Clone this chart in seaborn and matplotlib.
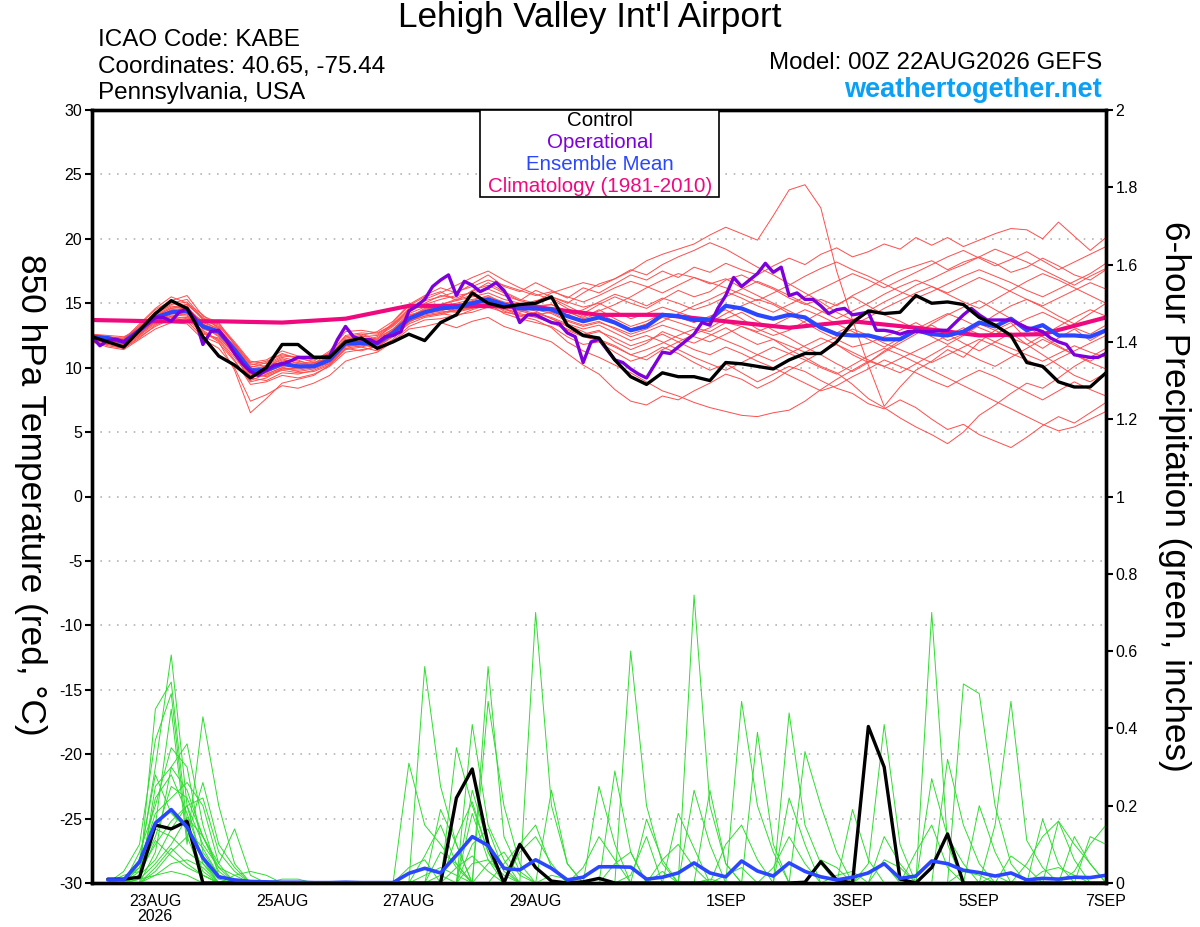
import matplotlib
matplotlib.use("Agg")
import matplotlib.pyplot as plt
from matplotlib.patches import Rectangle
import numpy as np
import pandas as pd
import seaborn as sns

START = pd.Timestamp("2026-08-22 00:00")

# ---- 850 hPa temperature (deg C), 6-hourly from 00Z 22AUG ----
control_temp = [
    12.4, 12.0, 11.6, 12.9, 14.2, 15.2, 14.6, 12.4, 10.9, 10.2, 9.2, 10.0, 11.8,
    11.8, 10.8, 10.8, 12.0, 12.3, 11.5, 12.0, 12.6, 12.1, 13.5, 14.1, 15.8, 15.0,
    14.7, 14.9, 15.0, 15.5, 13.3, 12.5, 12.3, 10.6, 9.3, 8.7, 9.6, 9.3, 9.3,
    9.0, 10.4, 10.3, 10.1, 9.9, 10.6, 11.1, 11.1, 12.0, 13.5, 14.4, 14.2, 14.3,
    15.6, 15.0, 15.1, 14.9, 13.9, 13.3, 12.5, 10.4, 10.1, 8.9, 8.5, 8.5, 9.6,
]

mean_temp = [
    12.4, 12.3, 12.0, 12.9, 13.9, 14.3, 14.4, 13.2, 12.8, 11.4, 9.8, 9.8, 10.3,
    10.1, 10.1, 10.6, 11.9, 11.9, 11.9, 12.7, 13.8, 14.3, 14.6, 14.7, 15.0, 15.3,
    14.9, 14.6, 14.6, 14.5, 14.0, 13.6, 13.9, 13.5, 12.9, 13.2, 14.1, 14.0, 13.7,
    13.7, 14.8, 14.6, 14.1, 13.8, 14.1, 13.9, 13.1, 12.6, 12.5, 12.5, 12.2, 12.2,
    12.9, 12.6, 12.5, 12.8, 13.5, 13.2, 13.8, 12.9, 13.3, 12.5, 12.5, 12.4, 12.9,
]

# operational run is 3-hourly
operational_temp = [
    12.4, 11.7, 12.1, 12.2, 12.0, 12.4, 12.9, 13.4, 13.9, 13.9, 13.6, 14.3, 14.6,
    13.8, 11.8, 12.8, 12.9, 12.1, 11.1, 10.3, 9.7, 9.4, 9.8, 10.2, 10.3, 10.5,
    10.8, 10.8, 10.8, 10.8, 10.9, 12.2, 13.2, 12.4, 12.2, 12.2, 11.9, 12.4, 12.5,
    12.8, 14.4, 14.8, 15.3, 16.3, 16.8, 17.2, 15.6, 16.7, 16.4, 15.9, 16.2, 16.6,
    16.0, 15.0, 13.5, 14.1, 14.1, 13.8, 13.5, 13.4, 12.7, 12.4, 10.4, 12.0, 12.2,
    11.4, 10.6, 10.4, 9.9, 9.5, 9.2, 10.2, 11.2, 11.1, 11.6, 12.1, 12.6, 13.5,
    13.3, 14.6, 15.6, 17.0, 16.3, 16.8, 17.3, 18.1, 17.4, 17.8, 15.6, 15.8, 15.3,
    15.3, 14.8, 14.2, 14.5, 14.6, 14.1, 14.2, 14.3, 12.9, 12.9, 12.8, 12.6, 12.8,
    12.8, 12.8, 12.8, 12.9, 12.9, 13.5, 14.1, 14.6, 14.1, 13.7, 13.7, 13.7, 13.7,
    13.4, 13.1, 13.0, 12.8, 12.3, 12.0, 11.8, 11.0, 10.9, 10.8, 10.8, 11.1,
]

# climatology, daily
clim_temp = [13.7, 13.6, 13.6, 13.5, 13.8, 14.8, 14.8, 14.7, 14.1,
             14.1, 13.6, 13.1, 13.6, 13.1, 12.5, 12.6, 13.9]

member_temp = [
    [12.0, 11.8, 12.2, 13.4, 14.6, 15.5, 15.0, 14.1, 13.0, 11.0, 9.6, 10.2, 10.8,
     10.5, 10.3, 11.2, 12.4, 12.6, 12.2, 13.5, 14.8, 15.5, 15.9, 15.2, 16.0, 16.4,
     15.8, 15.2, 16.0, 15.5, 15.0, 15.8, 16.5, 16.9, 17.5, 18.3, 18.8, 19.2, 19.6,
     20.3, 20.9, 20.4, 19.9, 21.8, 23.8, 24.2, 22.4, 17.5, 13.7, 10.2, 7.0, 8.5,
     9.8, 10.5, 11.4, 10.8, 12.0, 12.9, 13.5, 12.2, 11.5, 12.3, 13.0, 12.1, 12.8],
    [12.6, 12.4, 12.3, 13.1, 14.3, 15.0, 15.3, 13.8, 13.4, 12.0, 10.5, 10.3, 10.9,
     10.8, 10.6, 11.0, 12.3, 12.5, 12.8, 13.6, 14.9, 15.6, 16.2, 15.8, 16.5, 17.2,
     16.3, 15.9, 16.6, 16.0, 15.4, 16.2, 15.8, 16.5, 17.2, 16.8, 17.5, 17.0, 17.8,
     17.4, 18.1, 17.6, 17.2, 17.9, 18.5, 18.0, 18.8, 19.3, 18.6, 19.0, 19.6, 19.2,
     20.1, 19.5, 20.1, 19.4, 19.9, 20.4, 20.8, 20.7, 20.0, 21.3, 20.2, 19.1, 20.1],
    [12.1, 11.7, 11.5, 12.4, 13.2, 13.8, 13.9, 12.9, 12.1, 10.6, 8.7, 8.9, 9.4,
     9.2, 9.5, 10.1, 11.2, 11.4, 11.6, 12.4, 13.4, 13.9, 14.1, 14.5, 14.6, 15.0,
     14.2, 13.8, 13.5, 13.2, 12.4, 11.8, 12.0, 11.2, 10.5, 10.9, 11.6, 11.1, 10.4,
     9.8, 10.3, 9.6, 8.9, 9.5, 10.1, 9.7, 9.0, 8.4, 8.0, 7.2, 6.8, 7.5,
     6.9, 6.0, 5.2, 5.6, 4.8, 4.3, 3.8, 4.6, 5.5, 6.2, 5.7, 6.5, 7.3],
    [12.4, 12.0, 11.9, 12.6, 13.5, 14.2, 14.8, 13.0, 12.6, 11.0, 9.0, 9.5, 10.0,
     9.7, 9.9, 10.4, 11.6, 11.8, 11.5, 12.2, 13.6, 14.0, 14.2, 14.0, 14.5, 14.9,
     14.6, 14.0, 14.3, 13.8, 13.2, 12.6, 12.9, 12.0, 11.4, 11.9, 12.8, 12.3, 11.9,
     12.5, 13.1, 12.4, 11.8, 12.2, 11.4, 10.8, 10.1, 9.6, 8.7, 7.6, 6.9, 6.1,
     5.4, 4.8, 4.1, 5.0, 6.3, 7.1, 8.0, 8.8, 8.4, 9.2, 10.1, 10.8, 11.5],
    [12.5, 12.3, 12.1, 13.3, 14.5, 15.2, 15.6, 14.0, 13.5, 11.8, 10.3, 10.1, 10.6,
     10.4, 10.2, 10.9, 12.2, 12.0, 12.4, 13.2, 14.3, 15.0, 15.6, 15.4, 15.9, 16.6,
     15.9, 15.3, 15.0, 15.4, 14.8, 14.2, 14.9, 15.5, 15.0, 14.6, 15.3, 16.0, 15.5,
     15.9, 16.8, 17.2, 16.6, 16.1, 15.4, 14.9, 15.3, 14.8, 15.6, 16.2, 16.9, 17.5,
     17.9, 18.3, 17.6, 18.2, 18.6, 18.1, 17.4, 17.8, 18.5, 17.9, 17.2, 16.8, 17.6],
    [12.2, 12.1, 11.8, 12.7, 13.6, 14.0, 13.8, 12.6, 12.3, 11.1, 9.4, 9.6, 10.2,
     10.0, 10.3, 10.8, 12.1, 12.2, 12.0, 12.9, 14.1, 14.4, 14.9, 15.2, 15.5, 15.8,
     15.3, 15.0, 14.8, 14.9, 14.3, 13.9, 14.5, 13.8, 13.2, 13.6, 14.2, 13.9, 13.5,
     14.0, 14.5, 13.8, 13.0, 12.5, 12.9, 13.6, 14.3, 14.9, 15.5, 14.8, 14.1, 13.6,
     13.0, 12.4, 11.8, 12.5, 13.3, 14.1, 14.8, 15.3, 14.7, 14.0, 13.4, 14.2, 15.0],
    [12.0, 11.6, 11.4, 12.2, 13.0, 13.5, 13.4, 12.2, 11.5, 10.0, 7.4, 7.9, 8.6,
     8.4, 8.8, 9.4, 10.5, 10.9, 11.2, 12.0, 13.0, 13.2, 13.5, 13.1, 13.6, 13.9,
     13.2, 12.8, 12.4, 12.0, 11.1, 10.2, 9.5, 8.3, 7.4, 7.1, 7.8, 7.5, 8.2,
     8.8, 9.5, 9.1, 8.4, 9.0, 9.8, 10.5, 11.2, 11.8, 11.0, 10.4, 11.3, 12.1,
     12.8, 13.3, 12.6, 11.9, 11.3, 12.0, 12.7, 11.8, 11.0, 10.2, 9.4, 8.9, 9.6],
    [12.6, 12.5, 12.4, 13.0, 14.1, 14.7, 14.9, 13.9, 13.1, 11.6, 10.0, 10.4, 11.1,
     10.7, 10.5, 11.3, 12.8, 12.9, 12.7, 13.3, 14.6, 15.3, 15.8, 16.4, 17.0, 17.5,
     16.8, 16.2, 15.7, 15.3, 14.6, 14.0, 14.4, 14.9, 15.5, 16.2, 16.8, 17.3, 17.0,
     16.5, 16.9, 16.2, 15.6, 15.0, 14.4, 13.8, 13.2, 12.7, 13.3, 13.9, 14.6, 15.2,
     15.8, 16.3, 15.7, 15.1, 14.6, 15.3, 16.0, 16.7, 17.3, 16.8, 16.2, 15.6, 15.0],
    [12.3, 12.1, 11.7, 12.5, 13.7, 14.3, 14.1, 12.8, 12.0, 9.8, 6.5, 7.6, 8.8,
     9.1, 9.4, 10.2, 11.5, 11.3, 11.7, 12.5, 13.5, 14.2, 14.4, 14.8, 15.2, 15.6,
     15.0, 14.7, 14.4, 13.8, 13.3, 12.8, 12.2, 11.7, 11.0, 10.6, 11.4, 12.0, 12.6,
     13.1, 13.8, 14.3, 13.6, 12.9, 12.3, 11.6, 11.0, 10.3, 9.7, 10.4, 11.2, 11.9,
     12.6, 13.4, 14.1, 14.7, 15.2, 14.5, 13.8, 13.2, 12.4, 11.7, 11.0, 10.5, 11.2],
    [12.4, 12.2, 12.0, 13.0, 14.0, 14.6, 14.7, 13.5, 13.0, 11.7, 10.1, 10.0, 10.4,
     10.2, 10.0, 10.5, 11.8, 11.6, 11.9, 12.8, 13.9, 14.6, 14.8, 15.0, 15.3, 15.5,
     15.1, 14.9, 15.2, 15.5, 15.1, 14.7, 15.0, 14.4, 13.8, 14.2, 14.7, 14.3, 13.9,
     13.5, 14.2, 14.8, 15.3, 14.9, 14.2, 13.5, 12.8, 12.2, 11.6, 11.9, 12.4, 12.9,
     13.5, 12.8, 12.1, 12.6, 13.4, 12.9, 12.3, 11.8, 12.5, 13.2, 13.9, 14.5, 14.0],
    [12.1, 12.0, 12.1, 12.8, 13.8, 14.5, 14.6, 13.4, 12.9, 11.5, 9.9, 9.7, 10.1,
     10.3, 10.4, 10.7, 12.0, 12.3, 12.1, 12.9, 14.0, 14.5, 14.9, 15.3, 15.6, 15.2,
     14.8, 14.5, 15.1, 15.8, 16.2, 16.6, 16.3, 16.9, 17.6, 17.2, 18.0, 18.6, 19.1,
     19.7, 19.2, 18.5, 17.8, 17.2, 16.5, 15.8, 15.1, 14.3, 13.7, 14.4, 15.1, 15.7,
     16.4, 16.9, 17.5, 18.0, 18.6, 19.2, 18.7, 18.2, 17.6, 17.0, 16.4, 17.1, 17.7],
    [12.2, 11.9, 11.6, 12.5, 13.4, 14.0, 14.2, 13.1, 12.5, 11.2, 9.5, 9.3, 9.8,
     9.6, 9.7, 10.2, 11.4, 11.6, 11.3, 12.1, 13.2, 13.7, 13.8, 14.1, 14.3, 14.7,
     14.3, 14.1, 14.0, 13.6, 13.0, 12.5, 12.8, 12.3, 11.7, 12.1, 12.6, 12.0, 11.4,
     11.0, 11.6, 11.1, 10.5, 10.0, 9.4, 8.8, 8.2, 8.6, 9.3, 9.9, 10.6, 10.1,
     9.6, 9.0, 8.5, 9.2, 9.8, 9.3, 8.7, 8.1, 7.5, 8.2, 8.9, 8.3, 7.8],
    [12.3, 12.2, 12.3, 13.2, 14.2, 14.8, 14.5, 13.2, 12.7, 11.3, 9.7, 9.9, 10.5,
     10.6, 10.1, 10.3, 11.7, 12.1, 12.3, 13.0, 14.2, 14.7, 14.4, 14.3, 14.6, 15.0,
     14.5, 14.3, 14.7, 14.9, 14.4, 13.8, 14.2, 13.6, 13.0, 13.4, 13.9, 13.5, 13.1,
     12.8, 13.5, 13.2, 12.8, 13.3, 13.9, 14.5, 14.0, 13.4, 12.8, 12.2, 11.6, 12.3,
     13.0, 13.6, 14.2, 13.7, 13.1, 12.6, 13.2, 13.8, 14.3, 13.7, 13.1, 12.6, 13.3],
    [12.0, 11.8, 11.5, 12.3, 13.3, 13.9, 13.6, 12.4, 11.9, 10.5, 8.9, 9.2, 9.9,
     9.8, 10.0, 10.6, 11.8, 11.9, 11.8, 12.6, 13.7, 14.1, 14.3, 14.4, 14.7, 15.1,
     14.4, 14.0, 13.7, 13.1, 12.0, 11.3, 10.8, 10.2, 9.6, 8.9, 8.2, 7.8, 7.3,
     6.9, 6.6, 6.3, 6.2, 6.5, 6.7, 7.4, 8.3, 9.1, 9.8, 10.5, 10.1, 9.6,
     10.3, 11.0, 11.7, 11.2, 10.6, 10.1, 10.8, 11.5, 12.2, 11.6, 11.0, 10.4, 9.9],
    [12.5, 12.4, 12.2, 13.1, 14.2, 14.9, 15.1, 13.7, 13.2, 11.9, 10.4, 10.6, 11.3,
     10.9, 10.7, 11.1, 12.5, 12.7, 12.6, 13.4, 14.5, 15.2, 15.5, 15.9, 16.3, 16.8,
     16.4, 16.0, 15.6, 15.9, 15.5, 15.1, 15.6, 16.2, 16.7, 16.3, 15.8, 16.4, 17.0,
     16.6, 16.2, 15.7, 15.2, 15.8, 16.4, 17.1, 17.7, 18.2, 17.6, 17.1, 16.5, 15.9,
     15.4, 15.9, 16.5, 17.1, 17.6, 17.1, 16.6, 16.0, 15.5, 16.1, 16.7, 17.3, 18.1],
    [12.2, 12.1, 11.9, 12.8, 13.7, 14.3, 14.3, 13.1, 12.6, 11.3, 9.6, 9.5, 10.0,
     9.9, 10.1, 10.5, 11.7, 11.8, 11.7, 12.6, 13.7, 14.2, 14.6, 14.4, 14.8, 15.2,
     14.7, 14.4, 14.1, 14.3, 13.7, 13.3, 13.6, 13.0, 12.4, 12.8, 13.3, 12.9, 12.4,
     12.0, 12.6, 13.2, 12.7, 12.2, 11.7, 11.2, 11.8, 12.4, 13.0, 12.5, 11.9, 11.4,
     10.9, 10.4, 11.0, 11.6, 12.2, 11.7, 11.1, 10.6, 10.0, 10.7, 11.3, 11.9, 12.5],
    [12.4, 12.3, 12.1, 12.9, 13.9, 14.4, 14.5, 13.6, 13.0, 11.5, 9.9, 10.1, 10.7,
     10.3, 10.2, 10.7, 12.0, 12.1, 12.2, 13.0, 14.0, 14.4, 14.7, 14.8, 15.1, 15.4,
     15.0, 14.8, 14.5, 14.2, 13.6, 13.2, 13.5, 13.1, 12.6, 13.0, 13.6, 14.2, 14.8,
     15.3, 15.9, 15.4, 14.8, 14.3, 14.9, 15.5, 16.1, 16.7, 17.3, 16.8, 16.2, 16.8,
     17.4, 18.0, 18.6, 19.1, 18.5, 17.9, 18.4, 19.0, 18.3, 17.6, 18.2, 18.8, 19.4],
    [12.1, 11.9, 11.8, 12.6, 13.6, 14.1, 14.0, 12.7, 12.2, 10.8, 9.2, 9.0, 9.6,
     9.5, 9.8, 10.3, 11.5, 11.7, 11.9, 12.7, 13.8, 14.3, 14.7, 14.9, 15.1, 15.4,
     14.9, 14.5, 14.2, 13.9, 13.4, 13.0, 13.3, 12.7, 12.1, 12.5, 12.0, 11.4, 10.8,
     10.3, 9.8, 10.4, 11.0, 11.6, 11.1, 10.6, 10.0, 9.5, 10.2, 10.9, 11.5, 11.0,
     10.4, 9.8, 9.2, 8.6, 8.0, 7.4, 6.8, 6.2, 5.6, 5.1, 5.4, 6.0, 6.6],
    [12.3, 12.2, 12.2, 13.0, 14.0, 14.6, 14.9, 13.8, 13.3, 11.8, 10.2, 10.5, 11.0,
     10.8, 10.4, 10.8, 12.2, 12.4, 12.5, 13.3, 14.4, 14.9, 15.3, 15.6, 15.8, 16.1,
     15.6, 15.2, 14.9, 14.6, 14.1, 14.5, 15.1, 15.7, 15.3, 14.8, 15.4, 15.0, 14.5,
     14.9, 15.5, 16.1, 16.7, 16.2, 15.6, 15.0, 14.4, 13.8, 14.4, 15.0, 15.7, 16.3,
     16.8, 16.3, 15.8, 16.4, 17.0, 16.5, 15.9, 15.3, 14.8, 15.4, 16.0, 16.6, 16.1],
    [12.2, 12.0, 11.9, 12.7, 13.8, 14.2, 14.3, 13.2, 12.4, 11.0, 9.3, 9.4, 9.9,
     10.0, 10.2, 10.6, 11.9, 11.8, 11.6, 12.5, 13.6, 14.0, 14.2, 14.6, 14.9, 15.1,
     14.6, 14.2, 13.9, 13.5, 12.9, 12.4, 12.1, 11.6, 11.0, 11.4, 11.9, 12.5, 13.0,
     12.6, 12.1, 11.6, 11.0, 10.5, 11.1, 11.7, 12.3, 11.8, 11.2, 10.6, 10.1, 10.7,
     11.3, 11.9, 12.5, 13.1, 12.6, 12.0, 11.5, 11.0, 10.5, 11.1, 11.7, 11.2, 10.8],
]

# ---- 6-hour precipitation (inches), valid 06Z 22AUG onward ----
control_precip = [
    .01, .01, .015, .15, .14, .16, 0, 0, 0, 0, 0, 0, 0, 0, 0, 0,
    0, 0, 0, 0, 0, 0, .22, .295, .10, 0, .10, .04, .005, 0, .003, .012,
    0, 0, 0, 0, 0, 0, 0, 0, 0, 0, 0, 0, .002, .055, .008, 0,
    .405, .30, .01, 0, .04, .127, 0, 0, 0, 0, 0, 0, 0, 0, 0, 0,
]

mean_precip = [
    .008, .008, .055, .155, .19, .145, .065, .016, .008, .004, .003, .002, .002, .001, .001, .002,
    .001, .001, .001, .025, .038, .026, .072, .12, .097, .038, .034, .06, .038, .008, .015, .042,
    .042, .041, .01, .015, .026, .052, .026, .016, .057, .031, .018, .052, .03, .016, .008, .015,
    .026, .05, .012, .018, .057, .05, .033, .027, .018, .026, .008, .012, .01, .015, .014, .02,
]

member_precip = [
    [0, 0, .05, .30, .59, .20, .05, .01, 0, 0, 0, 0, 0, 0, 0, 0,
     0, 0, 0, 0, .56, .25, .10, 0, 0, 0, 0, 0, 0, 0, 0, 0,
     0, .02, .12, 0, 0, 0, 0, 0, 0, 0, 0, 0, 0, 0, 0, 0,
     .05, .41, .10, 0, 0, 0, 0, 0, 0, 0, 0, 0, 0, .03, .10, .15],
    [0, 0, .02, .45, .52, .15, .03, 0, 0, 0, 0, 0, 0, 0, 0, 0,
     0, 0, 0, .31, .15, .10, .04, 0, 0, 0, 0, .70, .20, .05, 0, 0,
     0, 0, 0, 0, 0, 0, 0, 0, 0, 0, 0, 0, 0, 0, 0, 0,
     0, 0, 0, 0, .70, .10, 0, 0, 0, 0, 0, 0, 0, 0, 0, 0],
    [0, .03, .10, .37, .49, .12, .02, 0, 0, 0, 0, 0, 0, 0, 0, 0,
     0, 0, 0, 0, 0, 0, 0, .41, .15, .06, 0, 0, 0, 0, 0, 0,
     0, 0, 0, 0, 0, .745, .20, .05, 0, 0, 0, 0, 0, 0, 0, 0,
     0, 0, 0, 0, 0, 0, 0, 0, .15, .47, .11, .04, 0, 0, 0, 0],
    [0, 0, .08, .20, .35, .30, .08, .02, 0, 0, 0, 0, 0, 0, 0, 0,
     0, 0, 0, 0, 0, 0, 0, 0, .56, .12, .03, 0, 0, 0, 0, 0,
     0, .60, .20, .05, 0, 0, 0, 0, 0, 0, 0, 0, .34, .20, .08, 0,
     0, 0, 0, 0, 0, 0, .515, .49, .20, .05, 0, 0, 0, 0, 0, 0],
    [0, 0, .04, .15, .45, .10, .43, .20, .05, 0, 0, 0, 0, 0, 0, 0,
     0, 0, 0, 0, 0, 0, .35, .20, .08, 0, 0, 0, 0, 0, 0, 0,
     0, 0, 0, 0, 0, 0, 0, 0, .47, .20, .08, 0, 0, 0, 0, 0,
     0, 0, 0, 0, 0, 0, 0, 0, 0, 0, 0, 0, .16, .10, .05, 0],
    [0, 0, 0, .25, .30, .36, .15, .02, 0, 0, 0, 0, 0, 0, 0, 0,
     0, 0, 0, 0, 0, 0, 0, 0, .47, .20, .05, 0, 0, 0, 0, .25,
     .10, 0, 0, 0, 0, 0, 0, 0, 0, 0, 0, .44, .15, .05, 0, 0,
     0, 0, 0, 0, 0, 0, 0, 0, 0, 0, 0, .165, .05, 0, 0, 0],
    [0, 0, .05, .18, .22, .26, .20, .05, .14, .02, 0, 0, 0, 0, 0, 0,
     0, 0, 0, 0, 0, .19, .10, 0, 0, 0, 0, 0, 0, 0, 0, 0,
     0, 0, 0, 0, .18, .09, 0, 0, 0, .39, .10, 0, 0, 0, 0, 0,
     0, .12, .05, 0, 0, 0, 0, 0, 0, 0, 0, 0, 0, 0, 0, 0],
    [0, 0, .03, .12, .25, .22, .12, .03, 0, 0, 0, 0, 0, 0, 0, 0,
     0, 0, 0, 0, 0, 0, 0, .24, .10, .04, 0, 0, .24, .05, 0, 0,
     .29, .08, 0, 0, 0, 0, 0, 0, 0, 0, 0, 0, 0, 0, 0, 0,
     0, 0, 0, 0, 0, .32, .15, .05, 0, 0, 0, 0, 0, 0, 0, 0],
    [0, 0, .02, .22, .28, .18, .06, 0, 0, 0, 0, 0, 0, 0, 0, 0,
     0, 0, 0, 0, .07, .15, .05, 0, 0, 0, 0, 0, 0, 0, 0, 0,
     0, 0, .165, .06, 0, 0, .24, .05, 0, 0, 0, 0, 0, 0, 0, .19,
     .06, 0, 0, 0, 0, 0, 0, 0, 0, 0, 0, 0, 0, 0, .12, .10],
    [0, 0, .06, .28, .18, .14, .09, .02, 0, 0, 0, 0, 0, 0, 0, 0,
     0, 0, 0, 0, 0, 0, 0, 0, 0, .05, .10, .15, .04, 0, 0, 0,
     0, 0, 0, 0, 0, .24, .10, 0, 0, 0, 0, 0, 0, 0, 0, 0,
     0, 0, 0, 0, .27, .12, .05, 0, 0, 0, 0, 0, 0, 0, 0, 0],
    [0, .02, .03, .10, .16, .20, .10, .04, 0, 0, 0, 0, 0, 0, 0, 0,
     0, 0, 0, 0, 0, 0, .12, .21, .08, 0, 0, 0, 0, 0, 0, 0,
     0, 0, 0, 0, 0, 0, 0, .10, .15, .06, 0, 0, 0, 0, 0, 0,
     0, 0, 0, 0, 0, 0, 0, .20, .08, 0, 0, 0, 0, 0, 0, 0],
    [0, .01, .04, .14, .12, .08, .05, 0, 0, 0, 0, 0, 0, 0, 0, 0,
     0, 0, 0, 0, 0, 0, 0, .10, .14, .03, 0, 0, 0, 0, 0, 0,
     0, 0, 0, 0, 0, 0, 0, 0, 0, 0, 0, .22, .10, 0, 0, 0,
     0, 0, 0, 0, 0, 0, 0, 0, 0, 0, .05, .12, .16, .06, 0, 0],
    [0, 0, 0, .08, .30, .24, .12, .04, .02, 0, 0, 0, 0, 0, 0, 0,
     0, 0, 0, 0, 0, .08, .05, 0, 0, 0, 0, 0, 0, 0, .04, .12,
     .06, 0, 0, 0, 0, 0, 0, 0, 0, 0, 0, 0, 0, .06, .04, 0,
     0, 0, 0, 0, 0, 0, 0, 0, 0, .07, .04, 0, 0, 0, 0, 0],
    [0, 0, .02, .06, .14, .20, .22, .08, .03, 0, 0, 0, 0, 0, 0, 0,
     0, 0, 0, 0, 0, 0, 0, .18, .06, 0, 0, 0, 0, 0, 0, 0,
     0, 0, 0, .06, .10, .04, 0, 0, 0, 0, 0, 0, 0, 0, 0, 0,
     0, 0, 0, .08, .15, .04, 0, 0, 0, 0, 0, 0, 0, 0, 0, 0],
    [0, 0, .01, .05, .10, .17, .12, .05, 0, 0, 0, 0, 0, 0, 0, 0,
     0, 0, 0, .04, .06, 0, 0, 0, 0, 0, .08, .12, .05, 0, 0, 0,
     0, 0, 0, 0, 0, 0, 0, 0, 0, 0, .04, .12, .05, 0, 0, 0,
     0, 0, 0, 0, 0, 0, 0, 0, 0, 0, 0, 0, 0, .12, .05, 0],
    [0, 0, 0, .03, .08, .12, .26, .10, .04, 0, 0, 0, 0, 0, 0, 0,
     0, 0, 0, 0, 0, 0, 0, 0, .05, .08, .02, 0, 0, 0, 0, 0,
     .05, .08, 0, 0, 0, 0, 0, 0, 0, 0, 0, 0, 0, 0, 0, 0,
     0, .06, .04, 0, 0, 0, 0, 0, 0, 0, 0, 0, 0, 0, 0, 0],
    [0, 0, .01, .02, .05, .06, .04, 0, 0, 0, 0, 0, 0, 0, 0, 0,
     0, 0, 0, 0, 0, 0, .04, .07, .03, 0, 0, 0, .02, .01, 0, 0,
     0, 0, 0, 0, 0, 0, 0, 0, 0, 0, 0, 0, 0, 0, .02, .03,
     0, 0, 0, 0, 0, 0, 0, 0, .02, 0, 0, 0, 0, 0, 0, 0],
    [0, 0, 0, .04, .09, .05, .02, 0, .02, .03, .02, 0, 0, 0, 0, 0,
     0, 0, 0, 0, 0, .02, 0, 0, 0, 0, 0, 0, 0, 0, 0, 0,
     0, 0, 0, 0, 0, 0, 0, .02, .04, 0, 0, 0, 0, 0, 0, 0,
     0, 0, 0, 0, 0, 0, .03, .02, 0, 0, 0, 0, 0, 0, 0, 0],
    [0, 0, .02, .11, .07, .04, .02, 0, 0, 0, 0, 0, 0, 0, 0, 0,
     0, 0, 0, 0, 0, 0, 0, .05, .06, .02, 0, 0, 0, 0, 0, 0,
     0, 0, 0, .03, 0, 0, 0, 0, 0, 0, 0, 0, 0, 0, 0, 0,
     .03, .05, 0, 0, 0, 0, 0, 0, 0, 0, 0, 0, 0, 0, 0, 0],
    [0, 0, 0, .02, .03, .02, 0, 0, 0, 0, 0, .01, .01, 0, 0, 0,
     0, 0, 0, 0, .02, .04, .02, 0, 0, 0, 0, 0, 0, 0, 0, 0,
     0, 0, 0, 0, 0, 0, .01, 0, 0, 0, 0, 0, 0, 0, 0, 0,
     0, 0, 0, 0, 0, 0, 0, 0, 0, 0, 0, .03, .04, .02, 0, 0],
]

tick_dates = ["2026-08-23", "2026-08-25", "2026-08-27", "2026-08-29",
              "2026-09-01", "2026-09-03", "2026-09-05", "2026-09-07"]
tick_labels = ["23AUG\n2026", "25AUG", "27AUG", "29AUG", "1SEP", "3SEP", "5SEP", "7SEP"]

RED = "#ff4d4d"
GREEN = "#30dc30"
PURPLE = "#7d00dc"
BLUE = "#2a46ff"
PINK = "#f0087f"

# ---- frames ----
t6 = pd.date_range(START, periods=len(control_temp), freq="6h")
t3 = pd.date_range(START, periods=len(operational_temp), freq="3h")
tday = pd.date_range(START, periods=len(clim_temp), freq="D")
tp = t6[1:]

n_mem = len(member_temp)
temp_members = pd.DataFrame({
    "time": np.tile(t6, n_mem),
    "value": np.concatenate(member_temp),
    "member": np.repeat(np.arange(n_mem), len(t6)),
})
precip_members = pd.DataFrame({
    "time": np.tile(tp, len(member_precip)),
    "value": np.concatenate(member_precip),
    "member": np.repeat(np.arange(len(member_precip)), len(tp)),
})

sns.set_style("white")
plt.rcParams["font.family"] = ["Liberation Sans", "DejaVu Sans"]
plt.rcParams["axes.unicode_minus"] = False
for key in ("text.color", "axes.labelcolor", "xtick.color", "ytick.color"):
    plt.rcParams[key] = "black"

fig = plt.figure(figsize=(12, 9.27), dpi=100)
ax = fig.add_axes([92 / 1200, 44 / 927, 1014 / 1200, 773 / 927])

sns.lineplot(data=temp_members, x="time", y="value", units="member", estimator=None,
             color=RED, linewidth=0.7, ax=ax, legend=False)
sns.lineplot(x=tday, y=clim_temp, color=PINK, linewidth=3, ax=ax)
sns.lineplot(x=t6, y=mean_temp, color=BLUE, linewidth=3, ax=ax)
sns.lineplot(x=t3, y=operational_temp, color=PURPLE, linewidth=2.4, ax=ax)
sns.lineplot(x=t6, y=control_temp, color="black", linewidth=2.4, ax=ax)

ax2 = ax.twinx()
sns.lineplot(data=precip_members, x="time", y="value", units="member", estimator=None,
             color=GREEN, linewidth=0.7, ax=ax2, legend=False)
sns.lineplot(x=tp, y=control_precip, color="black", linewidth=2.4, ax=ax2)
sns.lineplot(x=tp, y=mean_precip, color=BLUE, linewidth=2.6, ax=ax2)

# ---- axes ----
ax.set_xlim(START, START + pd.Timedelta(days=16))
ax.set_ylim(-30, 30)
ax2.set_ylim(0, 2)
ax.set_yticks(range(-30, 31, 5))
ax2.set_yticks(np.arange(0, 2.01, 0.2))
ax2.set_yticklabels([f"{v:g}" for v in np.arange(0, 2.01, 0.2).round(1)])
ax.set_xticks([pd.Timestamp(d).to_pydatetime() for d in tick_dates])
ax.set_xticklabels(tick_labels)
for a in (ax, ax2):
    a.set_xlabel("")
    a.set_ylabel("")
    for s in a.spines.values():
        s.set_linewidth(2.4)
        s.set_color("black")
ax.yaxis.grid(True, color="#b4b4b4", linewidth=1.2, linestyle=(0, (1, 4)))
ax.set_axisbelow(True)
ax.tick_params(axis="y", direction="out", length=5, width=1.5, labelsize=11.5, pad=2)
ax.tick_params(axis="x", direction="out", length=5, width=1.5, labelsize=11.5, pad=3)
ax2.tick_params(axis="y", direction="out", length=5, width=1.5, labelsize=11.5, pad=2)
for lab in ax.get_xticklabels():
    lab.set_linespacing(1.0)

# ---- legend box ----
fig.add_artist(Rectangle((480 / 1200, 1 - 197 / 927), 239 / 1200, 87 / 927,
                         transform=fig.transFigure, facecolor="white",
                         edgecolor="black", linewidth=1.2, zorder=5))
legend_items = [("Control", "black"), ("Operational", PURPLE),
                ("Ensemble Mean", BLUE), ("Climatology (1981-2010)", PINK)]
for k, (txt, col) in enumerate(legend_items):
    fig.text(600 / 1200, 1 - (121 + 21.7 * k) / 927, txt, color=col, fontsize=14.8,
             ha="center", va="center", zorder=6)

# ---- header text ----
fig.text(590 / 1200, 1 - 18 / 927, "Lehigh Valley Int'l Airport", fontsize=25.3,
         ha="center", va="center")
for k, txt in enumerate(["ICAO Code: KABE", "Coordinates: 40.65, -75.44",
                         "Pennsylvania, USA"]):
    fig.text(98 / 1200, 1 - (40 + 26.5 * k) / 927, txt, fontsize=17.5, ha="left",
             va="center")
fig.text(1102 / 1200, 1 - 63 / 927, "Model: 00Z 22AUG2026 GEFS", fontsize=17.4,
         ha="right", va="center")
fig.text(1102 / 1200, 1 - 90 / 927, "weathertogether.net", fontsize=19.5,
         fontweight="bold", color="#0aa0f5", ha="right", va="center")

fig.text(30 / 1200, 1 - 495 / 927, "850 hPa Temperature (red, °C)", fontsize=25.4,
         rotation=270, ha="center", va="center")
fig.text(1175 / 1200, 1 - 496 / 927, "6-hour Precipitation (green, inches)",
         fontsize=25.4, rotation=270, ha="center", va="center")

fig.savefig("out.png", dpi=100)
